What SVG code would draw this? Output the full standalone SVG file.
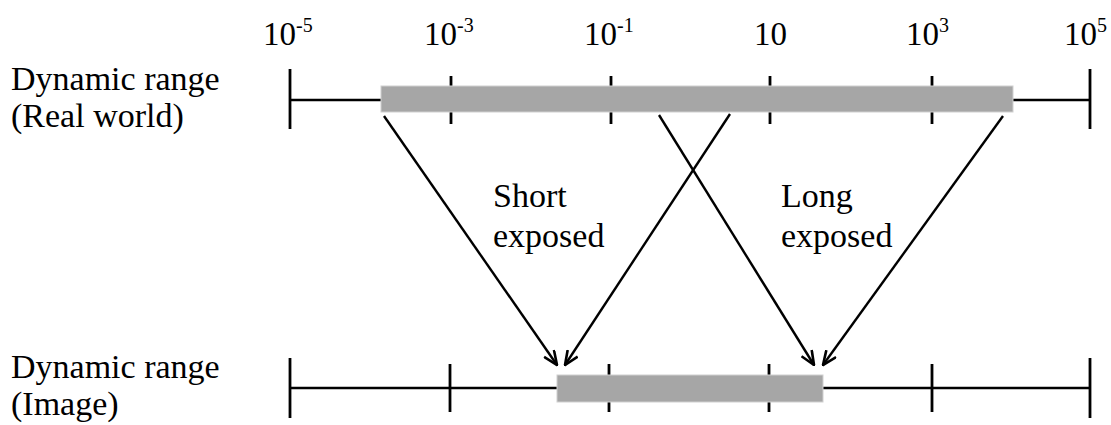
<svg xmlns="http://www.w3.org/2000/svg" width="1111" height="425" viewBox="0 0 1111 425">
  <style>
    .lbl { font-family: "Liberation Serif", "Times New Roman", serif; font-size: 34px; fill: #000; }
    .num { font-size: 33px; }
    .sup { font-size: 20px; }
    .axis { stroke: #000; stroke-width: 2.4; fill: none; }
    .tick { stroke: #000; stroke-width: 2.8; fill: none; }
    .bar { fill: #a6a6a6; stroke: #d0d0d0; stroke-width: 1; }
    .arrow { stroke: #000; stroke-width: 2.4; fill: none; marker-end: url(#head); }
  </style>
  <defs>
    <marker id="head" viewBox="0 0 16 14" refX="15" refY="7" markerWidth="16" markerHeight="14" markerUnits="userSpaceOnUse" orient="auto">
      <path d="M1,1 L15,7 L1,13" stroke="#000" stroke-width="2.6" fill="none"/>
    </marker>
  </defs>

  <!-- row labels -->
  <g id="label-real">
    <text class="lbl" x="11" y="90">Dynamic range</text>
    <text class="lbl" x="11" y="127">(Real world)</text>
  </g>
  <g id="label-image">
    <text class="lbl" x="11" y="378">Dynamic range</text>
    <text class="lbl" x="11" y="415">(Image)</text>
  </g>

  <!-- decade labels above the real-world axis -->
  <g id="scale-labels">
    <text class="lbl num" x="263" y="45">10<tspan class="sup" dy="-13">-5</tspan></text>
    <text class="lbl num" x="424" y="45">10<tspan class="sup" dy="-13">-3</tspan></text>
    <text class="lbl num" x="584" y="45">10<tspan class="sup" dy="-13">-1</tspan></text>
    <text class="lbl num" x="754" y="45">10</text>
    <text class="lbl num" x="906" y="45">10<tspan class="sup" dy="-13">3</tspan></text>
    <text class="lbl num" x="1064" y="45">10<tspan class="sup" dy="-13">5</tspan></text>
  </g>

  <!-- real-world axis -->
  <g id="axis-real">
    <line class="axis" x1="290" y1="100" x2="1090" y2="100"/>
    <line class="tick" x1="290" y1="69" x2="290" y2="129"/>
    <line class="tick" x1="1090" y1="69" x2="1090" y2="129"/>
    <line class="tick" x1="451" y1="76" x2="451" y2="124"/>
    <line class="tick" x1="611" y1="76" x2="611" y2="124"/>
    <line class="tick" x1="770" y1="76" x2="770" y2="124"/>
    <line class="tick" x1="932" y1="76" x2="932" y2="124"/>
    <rect class="bar" x="381" y="86" width="632" height="26"/>
  </g>

  <!-- image axis -->
  <g id="axis-image">
    <line class="axis" x1="290" y1="388" x2="1090" y2="388"/>
    <line class="tick" x1="290" y1="358" x2="290" y2="418"/>
    <line class="tick" x1="1090" y1="358" x2="1090" y2="418"/>
    <line class="tick" x1="450" y1="364" x2="450" y2="412"/>
    <line class="tick" x1="609" y1="364" x2="609" y2="412"/>
    <line class="tick" x1="769" y1="364" x2="769" y2="412"/>
    <line class="tick" x1="932" y1="364" x2="932" y2="412"/>
    <rect class="bar" x="557" y="375" width="266" height="27"/>
  </g>

  <!-- mapping arrows -->
  <g id="connectors">
    <line class="arrow" x1="384" y1="116" x2="557" y2="365"/>
    <line class="arrow" x1="730" y1="114" x2="565" y2="365"/>
    <line class="arrow" x1="659" y1="115" x2="814" y2="365"/>
    <line class="arrow" x1="1003" y1="116" x2="823" y2="365"/>
  </g>

  <!-- exposure labels -->
  <g id="label-short">
    <text class="lbl" x="493" y="207">Short</text>
    <text class="lbl" x="493" y="247">exposed</text>
  </g>
  <g id="label-long">
    <text class="lbl" x="781" y="207">Long</text>
    <text class="lbl" x="781" y="247">exposed</text>
  </g>
</svg>
